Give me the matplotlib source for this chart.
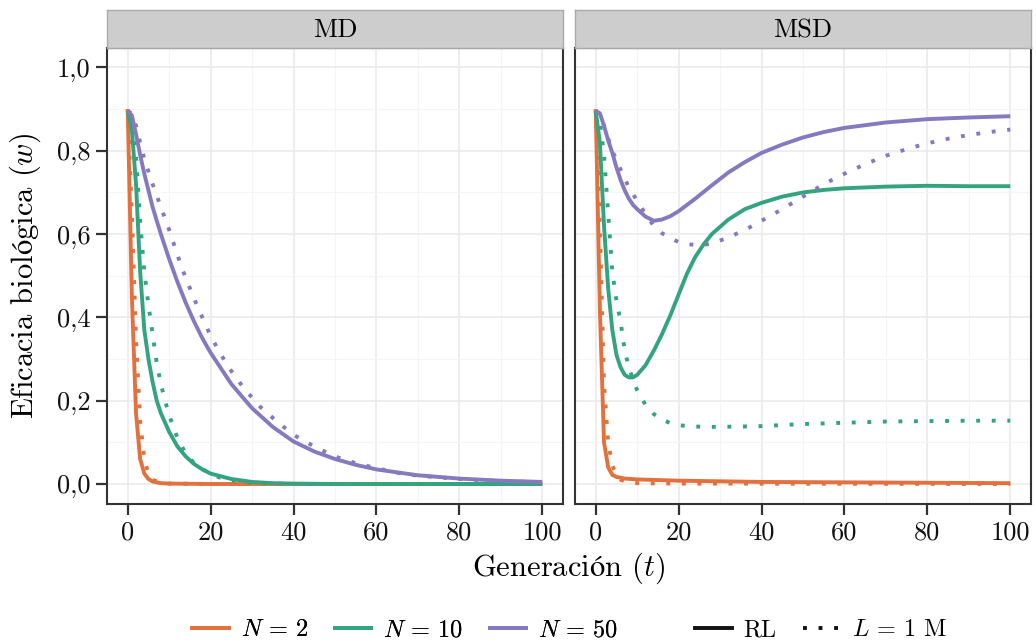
import matplotlib.pyplot as plt
from matplotlib.lines import Line2D

plt.rcParams['font.family'] = ['cmr10', 'DejaVu Serif']
plt.rcParams['mathtext.fontset'] = 'cm'
plt.rcParams['axes.formatter.use_mathtext'] = True
plt.rcParams['axes.unicode_minus'] = False

panels = ['MD', 'MSD']
size_labels = ['$N\\,=\\,2$', '$N\\,=\\,10$', '$N\\,=\\,50$']
model_labels = ['RL', '$L\\,=\\,1$ M']
colors = ['#E2713E', '#33A47E', '#8579BF']

x_ticks = [0, 20, 40, 60, 80, 100]
x_minor = [10, 30, 50, 70, 90]
y_ticks = [0.0, 0.2, 0.4, 0.6, 0.8, 1.0]
y_minor = [0.1, 0.3, 0.5, 0.7, 0.9]
y_labels = ['0,0', '0,2', '0,4', '0,6', '0,8', '1,0']

# MD, N = 2
t_md_n2_rl = [0, 1, 2, 3, 4, 5, 6, 8, 10, 20, 100]
w_md_n2_rl = [0.9, 0.45, 0.17, 0.06, 0.025, 0.012, 0.006, 0.002, 0.001, 0.0, 0.0]
t_md_n2_l1 = [0, 1, 2, 3, 4, 5, 6, 8, 10, 20, 100]
w_md_n2_l1 = [0.9, 0.65, 0.35, 0.15, 0.06, 0.025, 0.01, 0.003, 0.001, 0.0, 0.0]
# MD, N = 10
t_md_n10_rl = [0, 1, 2, 3, 4, 5, 6, 7, 8, 10, 12, 14, 16, 18, 20, 25, 30, 35, 40, 50, 100]
w_md_n10_rl = [0.895, 0.85, 0.72, 0.51, 0.37, 0.3, 0.245, 0.2, 0.17, 0.125, 0.09, 0.066,
               0.048, 0.035, 0.025, 0.012, 0.005, 0.002, 0.001, 0.0, 0.0]
t_md_n10_l1 = [0, 1, 2, 3, 4, 5, 6, 7, 8, 9, 10, 12, 14, 16, 18, 20, 22, 25, 30, 40, 100]
w_md_n10_l1 = [0.895, 0.87, 0.79, 0.63, 0.51, 0.43, 0.36, 0.29, 0.24, 0.2, 0.165, 0.11,
               0.073, 0.05, 0.036, 0.024, 0.016, 0.009, 0.003, 0.0, 0.0]
# MD, N = 50
t_md_n50_rl = [0, 1, 2, 3, 4, 5, 6, 7, 8, 9, 10, 12, 14, 16, 18, 20, 22, 25, 28, 30, 35, 40,
               45, 50, 55, 60, 70, 80, 90, 100]
w_md_n50_rl = [0.895, 0.885, 0.84, 0.79, 0.745, 0.705, 0.665, 0.632, 0.6, 0.57, 0.54, 0.485,
               0.435, 0.39, 0.35, 0.315, 0.285, 0.24, 0.205, 0.182, 0.137, 0.102, 0.078, 0.06,
               0.046, 0.035, 0.021, 0.013, 0.008, 0.005]
t_md_n50_l1 = [0, 1, 2, 4, 6, 8, 10, 13, 16, 20, 24, 28, 32, 36, 40, 45, 50, 55, 60, 65, 70,
               80, 90, 100]
w_md_n50_l1 = [0.895, 0.89, 0.86, 0.78, 0.72, 0.665, 0.61, 0.52, 0.445, 0.355, 0.285, 0.23,
               0.185, 0.15, 0.118, 0.09, 0.066, 0.05, 0.038, 0.027, 0.02, 0.012, 0.007, 0.004]

# MSD, N = 2
t_msd_n2_rl = [0, 1, 2, 3, 4, 5, 7, 10, 20, 40, 60, 80, 100]
w_msd_n2_rl = [0.9, 0.42, 0.1, 0.04, 0.022, 0.017, 0.013, 0.011, 0.008, 0.005, 0.004, 0.003, 0.002]
t_msd_n2_l1 = [0, 1, 2, 3, 4, 5, 6, 8, 10, 20, 100]
w_msd_n2_l1 = [0.9, 0.62, 0.24, 0.1, 0.045, 0.02, 0.01, 0.004, 0.002, 0.001, 0.0]
# MSD, N = 10
t_msd_n10_rl = [0, 1, 2, 3, 4, 5, 6, 7, 8, 9, 10, 12, 14, 16, 18, 20, 22, 24, 26, 28, 32, 36,
                40, 45, 50, 55, 60, 70, 80, 90, 100]
w_msd_n10_rl = [0.895, 0.82, 0.62, 0.47, 0.37, 0.31, 0.28, 0.262, 0.256, 0.256, 0.262, 0.285,
                0.32, 0.36, 0.405, 0.455, 0.505, 0.545, 0.575, 0.6, 0.635, 0.66, 0.675, 0.69,
                0.7, 0.706, 0.71, 0.714, 0.716, 0.715, 0.715]
t_msd_n10_l1 = [0, 1, 2, 3, 4, 5, 6, 7, 8, 9, 10, 12, 14, 16, 18, 20, 24, 28, 35, 40, 50, 60,
                70, 80, 90, 100]
w_msd_n10_l1 = [0.895, 0.87, 0.79, 0.65, 0.51, 0.44, 0.39, 0.32, 0.28, 0.25, 0.225, 0.19,
                0.168, 0.155, 0.146, 0.141, 0.138, 0.137, 0.138, 0.139, 0.144, 0.147, 0.15,
                0.151, 0.152, 0.152]
# MSD, N = 50
t_msd_n50_rl = [0, 1, 2, 3, 4, 5, 6, 7, 8, 9, 10, 12, 14, 16, 18, 20, 24, 28, 32, 36, 40, 45,
                50, 55, 60, 70, 80, 90, 100]
w_msd_n50_rl = [0.895, 0.89, 0.86, 0.825, 0.795, 0.76, 0.73, 0.705, 0.685, 0.67, 0.66, 0.642,
                0.632, 0.635, 0.643, 0.655, 0.685, 0.717, 0.748, 0.773, 0.795, 0.815, 0.832,
                0.845, 0.855, 0.868, 0.876, 0.88, 0.883]
t_msd_n50_l1 = [0, 1, 2, 4, 6, 8, 10, 12, 14, 16, 18, 20, 22, 25, 28, 32, 36, 40, 45, 50, 55,
                60, 65, 70, 75, 80, 85, 90, 95, 100]
w_msd_n50_l1 = [0.895, 0.89, 0.86, 0.8, 0.755, 0.712, 0.68, 0.648, 0.62, 0.602, 0.59, 0.581,
                0.576, 0.573, 0.577, 0.592, 0.61, 0.632, 0.66, 0.69, 0.72, 0.745, 0.768, 0.788,
                0.804, 0.818, 0.829, 0.838, 0.845, 0.851]

series = {
    'MD': [((t_md_n2_rl, w_md_n2_rl), (t_md_n2_l1, w_md_n2_l1)),
           ((t_md_n10_rl, w_md_n10_rl), (t_md_n10_l1, w_md_n10_l1)),
           ((t_md_n50_rl, w_md_n50_rl), (t_md_n50_l1, w_md_n50_l1))],
    'MSD': [((t_msd_n2_rl, w_msd_n2_rl), (t_msd_n2_l1, w_msd_n2_l1)),
            ((t_msd_n10_rl, w_msd_n10_rl), (t_msd_n10_l1, w_msd_n10_l1)),
            ((t_msd_n50_rl, w_msd_n50_rl), (t_msd_n50_l1, w_msd_n50_l1))],
}

W, H = 1036, 642
LW = 2.8
DOT = (0, (1, 3))

fig = plt.figure(figsize=(W / 100, H / 100), dpi=100)
fig.patch.set_facecolor('white')

bottom = (H - 504) / H
top = (H - 47.5) / H
pw = 456 / W
lefts = [107 / W, 575 / W]

for k, name in enumerate(panels):
    ax = fig.add_axes([lefts[k], bottom, pw, top - bottom])
    for i, (rl, l1) in enumerate(series[name]):
        ax.plot(rl[0], rl[1], color=colors[i], lw=LW, solid_capstyle='butt')
        ax.plot(l1[0], l1[1], color=colors[i], lw=LW, ls=DOT)
    ax.set_xlim(-5, 105)
    ax.set_ylim(-0.048, 1.048)
    ax.set_xticks(x_ticks, [str(v) for v in x_ticks])
    ax.set_xticks(x_minor, minor=True)
    ax.set_yticks(y_ticks, y_labels)
    ax.set_yticks(y_minor, minor=True)
    ax.grid(which='major', color='#EBEBEB', lw=1.2)
    ax.grid(which='minor', color='#F5F5F5', lw=0.8)
    ax.set_axisbelow(True)
    ax.tick_params(which='major', direction='out', length=8, width=1.6, color='#333333',
                   labelsize=19, pad=4, labelcolor='#111111')
    ax.tick_params(which='minor', length=0)
    if k == 1:
        ax.tick_params(axis='y', which='both', left=False, labelleft=False)
    for s in ax.spines.values():
        s.set_color('#333333')
        s.set_linewidth(1.5)

    strip = fig.add_axes([lefts[k], top, pw, 37.5 / H])
    strip.set_facecolor('#CCCDCC')
    strip.set_xticks([])
    strip.set_yticks([])
    for s in strip.spines.values():
        s.set_color('#AAAAAA')
        s.set_linewidth(1.0)
    strip.text(0.5, 0.45, name, ha='center', va='center', fontsize=19,
               transform=strip.transAxes)

fig.text(25 / W, (H - 276) / H, 'Eficacia biol$\\mathrm{ó}$gica ($w$)',
         rotation=90, ha='center', va='center', fontsize=22)
fig.text(569 / W, (H - 568) / H, 'Generaci$\\mathrm{ó}$n ($t$)',
         ha='center', va='center', fontsize=22)

size_handles = [Line2D([], [], color=c, lw=LW) for c in colors]
model_handles = [Line2D([], [], color='#111111', lw=LW),
                 Line2D([], [], color='#111111', lw=LW, ls=DOT)]
leg1 = fig.legend(size_handles, size_labels, loc='center', ncol=3,
                  bbox_to_anchor=(405 / W, (H - 630) / H), frameon=False, fontsize=17.5,
                  handlelength=1.5, handletextpad=0.5, columnspacing=1.1, borderpad=0)
fig.add_artist(leg1)
fig.legend(model_handles, model_labels, loc='center', ncol=2,
           bbox_to_anchor=(821 / W, (H - 630) / H), frameon=False, fontsize=17.5,
           handlelength=1.5, handletextpad=0.5, columnspacing=1.1, borderpad=0)

fig.savefig('out.png', dpi=100)
